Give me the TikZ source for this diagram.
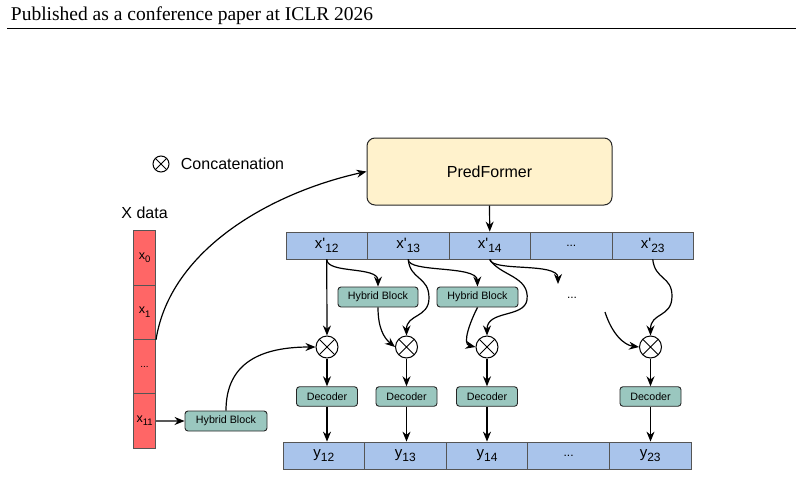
\documentclass[tikz,border=0pt]{standalone}
\usepackage{fontspec}
\setmainfont{Liberation Sans}
\newfontfamily\kopfschrift{Liberation Serif}
\usetikzlibrary{arrows.meta}
\definecolor{zellrot}{HTML}{FF6666}
\definecolor{zellblau}{HTML}{A9C4EB}
\definecolor{blockgruen}{HTML}{9AC7BF}
\definecolor{predgelb}{HTML}{FFF2CC}
\definecolor{randgrau}{HTML}{555555}
\newcommand{\tief}[1]{\raisebox{-4pt}{\fontsize{12}{12}\selectfont #1}}
\newcommand{\tiefk}[1]{\raisebox{-3.5pt}{\fontsize{9.5}{9.5}\selectfont #1}}
\newcommand{\strich}{\textquotesingle}
\begin{document}
\begin{tikzpicture}[x=1pt, y=-1pt, >={Stealth[length=10pt,width=8pt]}, line width=1.2pt,
  rzelle/.style={draw=randgrau, fill=zellrot, line width=0.8pt, minimum width=22pt,
    minimum height=54.3pt, inner sep=0pt, font=\fontsize{12.5}{13}\selectfont},
  bzelle/.style={draw=randgrau, fill=zellblau, line width=0.8pt, minimum width=81.5pt,
    minimum height=27pt, inner sep=0pt, font=\fontsize{15}{16}\selectfont},
  block/.style={draw=black!85, fill=blockgruen, rounded corners=3pt, minimum height=20pt,
    inner sep=0pt, line width=0.9pt, font=\fontsize{10.7}{12}\selectfont},
  konkat/.style={circle, draw, line width=1pt, minimum size=22pt, inner sep=0pt,
    path picture={\draw[line width=1pt]
      (path picture bounding box.north west) -- (path picture bounding box.south east)
      (path picture bounding box.north east) -- (path picture bounding box.south west);}}]
\useasboundingbox (0,0) rectangle (804,477);
% Kopfzeile
\node[anchor=base west, font=\kopfschrift\fontsize{19.5}{22}\selectfont] (kopf) at (7,20)
  {Published as a conference paper at ICLR 2026};
\draw[line width=0.8pt] (7,28) -- (796,28);
% Legende
\node[konkat, minimum size=16pt] (leg) at (161,164) {};
\node[anchor=west, font=\fontsize{16}{18}\selectfont] (legtext) at (177,164) {Concatenation};
% Eingangsdaten
\node[font=\fontsize{16}{18}\selectfont] (xlabel) at (144.6,213) {X data};
\node[rzelle] (xd0)  at (144.6,257.9) {x\tiefk{0}};
\node[rzelle] (xd1)  at (144.6,312.2) {x\tiefk{1}};
\node[rzelle] (xdd)  at (144.6,366.5) {\fontsize{10}{10}\selectfont ...};
\node[rzelle] (xd11) at (144.6,420.9) {x\tiefk{11}};
% PredFormer
\node[draw=black!85, fill=predgelb, rounded corners=8pt, minimum width=245pt,
  minimum height=67pt, line width=1pt, font=\fontsize{16}{18}\selectfont] (pf) at (489.5,171.5) {PredFormer};
% Vorhersagen x'
\node[bzelle] (x12)   at (326.75,245.5) {x\strich\tief{12}};
\node[bzelle] (x13)   at (408.25,245.5) {x\strich\tief{13}};
\node[bzelle] (x14)   at (489.75,245.5) {x\strich\tief{14}};
\node[bzelle] (xdots) at (571.25,245.5) {\fontsize{12}{12}\selectfont ...};
\node[bzelle] (x23)   at (652.75,245.5) {x\strich\tief{23}};
% Hybrid Blocks
\node[block, minimum width=82pt] (hb0) at (226,421) {Hybrid Block};
\node[block, minimum width=80pt] (hb1) at (378,297) {Hybrid Block};
\node[block, minimum width=81pt] (hb2) at (477.5,297) {Hybrid Block};
\node[font=\fontsize{12}{12}\selectfont] (punkte) at (572,298) {...};
\coordinate (pein) at (558,284);
\coordinate (paus) at (605,312);
% Konkatenation
\node[konkat] (k1) at (327,347) {};
\node[konkat] (k2) at (406.5,347) {};
\node[konkat] (k3) at (487,347) {};
\node[konkat] (k4) at (650.5,347) {};
% Decoder
\node[block, minimum width=61pt, minimum height=19.5pt] (d1) at (327,396.5) {Decoder};
\node[block, minimum width=61pt, minimum height=19.5pt] (d2) at (406.5,396.5) {Decoder};
\node[block, minimum width=61pt, minimum height=19.5pt] (d3) at (487,396.5) {Decoder};
\node[block, minimum width=61pt, minimum height=19.5pt] (d4) at (650.5,396.5) {Decoder};
% Ausgabe y
\node[bzelle, minimum width=81.6pt] (y12)   at (323.8,455.5) {y\tief{12}};
\node[bzelle, minimum width=81.6pt] (y13)   at (405.4,455.5) {y\tief{13}};
\node[bzelle, minimum width=81.6pt] (y14)   at (487.0,455.5) {y\tief{14}};
\node[bzelle, minimum width=81.6pt] (ydots) at (568.6,455.5) {\fontsize{12}{12}\selectfont ...};
\node[bzelle, minimum width=81.6pt] (y23)   at (650.2,455.5) {y\tief{23}};
% Pfeile
\draw[->] (xd1.south east) .. controls (170,250) and (270,193) .. (pf.west);
\draw[->] (xd11.east) -- (hb0.west);
\draw[->] (hb0.north) .. controls (226,362) and (262,347) .. (k1.west);
\draw[->] (pf.south) -- (x14.north);
\draw[->] (x12.south) -- (k1.north);
\draw[->] (x12.south) .. controls (327,274) and (378,266) .. (hb1.north);
\draw[->] (hb1.south) .. controls (378,328) and (384,338) .. (k2.west);
\draw[->] (x13.south) .. controls (410,280) and (429,276) .. (429,298)
  .. controls (429,318) and (406.5,314) .. (k2.north);
\draw[->] (x13.south) .. controls (408,273) and (477,265) .. (hb2.north);
\draw[->] (hb2.south) .. controls (470,322) and (462,344) .. (k3.west);
\draw[->] (x14.south) .. controls (500,276) and (530,276) .. (527,300)
  .. controls (524,318) and (487,310) .. (k3.north);
\draw[->] (x14.south) .. controls (492,272) and (558,262) .. (pein);
\draw[->] (paus) .. controls (612,334) and (624,345) .. (k4.west);
\draw[->] (x23.south) .. controls (655,280) and (672,276) .. (672,296)
  .. controls (672,318) and (650.5,312) .. (k4.north);
\draw[->] (k1) -- (d1);
\draw[->] (k2) -- (d2);
\draw[->] (k3) -- (d3);
\draw[->] (k4) -- (d4);
\draw[->] (d1) -- (d1 |- y12.north);
\draw[->] (d2) -- (d2 |- y13.north);
\draw[->] (d3) -- (d3 |- y14.north);
\draw[->] (d4) -- (d4 |- y23.north);
\end{tikzpicture}
\end{document}
